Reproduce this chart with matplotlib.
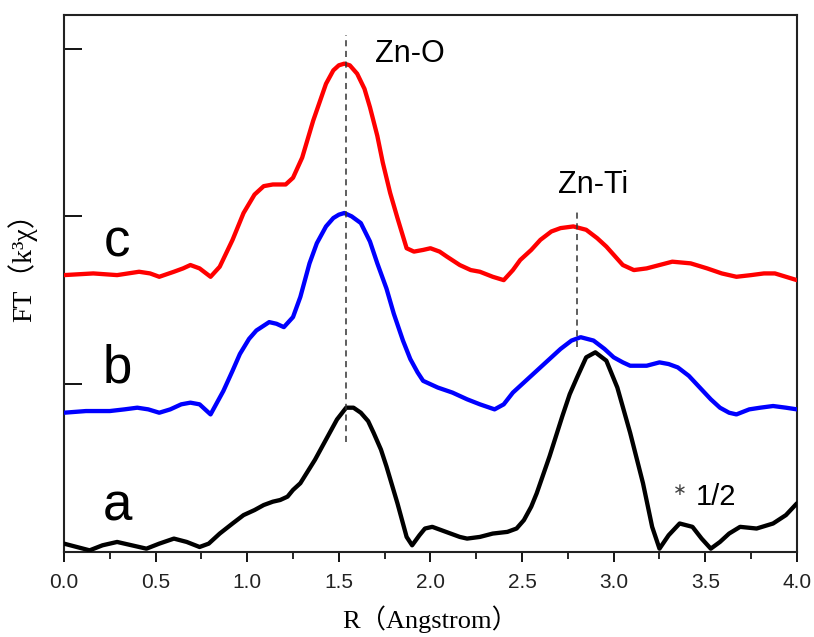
import matplotlib
matplotlib.use('Agg')
import matplotlib.pyplot as plt
from matplotlib.ticker import MultipleLocator

# curve a (black, shown *1/2)
r_a = [0.00, 0.07, 0.14, 0.21, 0.29, 0.37, 0.45, 0.52, 0.60, 0.67, 0.74, 0.79,
       0.85, 0.92, 0.98, 1.04, 1.09, 1.14, 1.18, 1.22, 1.25, 1.29, 1.33, 1.37,
       1.40, 1.45, 1.49, 1.54, 1.58, 1.62, 1.66, 1.69, 1.73, 1.76, 1.82, 1.87,
       1.90, 1.94, 1.97, 2.01, 2.06, 2.11, 2.16, 2.20, 2.27, 2.34, 2.42, 2.47,
       2.51, 2.55, 2.58, 2.65, 2.72, 2.76, 2.80, 2.85, 2.90, 2.96, 3.02, 3.09,
       3.16, 3.21, 3.25, 3.30, 3.36, 3.43, 3.48, 3.53, 3.58, 3.63, 3.69, 3.78,
       3.87, 3.94, 4.00]
ft_a = [0.05, 0.03, 0.01, 0.04, 0.06, 0.04, 0.02, 0.05, 0.08, 0.06, 0.03, 0.05,
        0.11, 0.17, 0.22, 0.25, 0.28, 0.30, 0.31, 0.33, 0.37, 0.41, 0.48, 0.55,
        0.61, 0.71, 0.79, 0.86, 0.86, 0.83, 0.78, 0.71, 0.61, 0.51, 0.29, 0.09,
        0.04, 0.10, 0.14, 0.15, 0.13, 0.11, 0.09, 0.08, 0.09, 0.11, 0.12, 0.14,
        0.19, 0.27, 0.35, 0.57, 0.81, 0.94, 1.04, 1.16, 1.19, 1.14, 0.98, 0.71,
        0.41, 0.15, 0.02, 0.10, 0.17, 0.15, 0.08, 0.02, 0.06, 0.11, 0.15, 0.14,
        0.17, 0.22, 0.29]

# curve b (blue)
r_b = [0.00, 0.12, 0.25, 0.33, 0.40, 0.46, 0.52, 0.58, 0.64, 0.69, 0.74, 0.80,
       0.87, 0.92, 0.96, 1.01, 1.05, 1.12, 1.16, 1.20, 1.25, 1.29, 1.34, 1.38,
       1.43, 1.47, 1.50, 1.53, 1.57, 1.62, 1.67, 1.71, 1.76, 1.80, 1.85, 1.89,
       1.93, 1.96, 2.04, 2.12, 2.20, 2.27, 2.35, 2.40, 2.45, 2.51, 2.58, 2.65,
       2.71, 2.77, 2.82, 2.89, 2.95, 3.00, 3.05, 3.09, 3.18, 3.25, 3.30, 3.35,
       3.41, 3.47, 3.53, 3.58, 3.63, 3.67, 3.74, 3.80, 3.87, 3.94, 4.00]
ft_b = [0.83, 0.84, 0.84, 0.85, 0.86, 0.85, 0.83, 0.85, 0.88, 0.89, 0.88, 0.82,
        0.96, 1.08, 1.18, 1.27, 1.32, 1.37, 1.36, 1.34, 1.40, 1.52, 1.72, 1.84,
        1.94, 1.99, 2.01, 2.02, 2.00, 1.96, 1.85, 1.72, 1.57, 1.42, 1.26, 1.15,
        1.07, 1.02, 0.98, 0.95, 0.91, 0.88, 0.85, 0.88, 0.95, 1.01, 1.08, 1.15,
        1.21, 1.26, 1.28, 1.26, 1.21, 1.16, 1.13, 1.11, 1.11, 1.13, 1.12, 1.10,
        1.05, 0.98, 0.91, 0.86, 0.83, 0.82, 0.85, 0.86, 0.87, 0.86, 0.85]

# curve c (red)
r_c = [0.00, 0.16, 0.29, 0.35, 0.41, 0.47, 0.52, 0.60, 0.65, 0.69, 0.74, 0.80,
       0.85, 0.92, 0.98, 1.04, 1.09, 1.14, 1.21, 1.25, 1.30, 1.36, 1.43, 1.47,
       1.50, 1.53, 1.56, 1.60, 1.64, 1.67, 1.71, 1.74, 1.78, 1.82, 1.87, 1.91,
       1.96, 2.00, 2.05, 2.09, 2.16, 2.22, 2.27, 2.34, 2.40, 2.45, 2.49, 2.55,
       2.60, 2.66, 2.71, 2.78, 2.85, 2.91, 2.96, 3.05, 3.11, 3.18, 3.25, 3.32,
       3.42, 3.51, 3.59, 3.67, 3.75, 3.82, 3.88, 3.94, 4.00]
ft_c = [1.65, 1.66, 1.65, 1.66, 1.67, 1.66, 1.64, 1.67, 1.69, 1.71, 1.69, 1.64,
        1.70, 1.86, 2.02, 2.13, 2.18, 2.19, 2.19, 2.23, 2.35, 2.57, 2.79, 2.87,
        2.90, 2.91, 2.90, 2.85, 2.76, 2.65, 2.48, 2.32, 2.14, 1.99, 1.81, 1.79,
        1.80, 1.81, 1.79, 1.76, 1.71, 1.68, 1.67, 1.64, 1.62, 1.68, 1.74, 1.80,
        1.86, 1.91, 1.93, 1.94, 1.92, 1.87, 1.82, 1.71, 1.68, 1.69, 1.71, 1.73,
        1.72, 1.69, 1.66, 1.64, 1.65, 1.66, 1.66, 1.64, 1.62]

# guide lines for the two shells
shell_names = ['Zn-O', 'Zn-Ti']
shell_r     = [1.54, 2.80]
shell_lo    = [0.655, 1.22]
shell_hi    = [3.08, 2.04]

fig = plt.figure(figsize=(8.14, 6.37), dpi=100)
ax = fig.add_axes([0.0786, 0.1334, 0.9004, 0.8431])

line_kw = dict(lw=3.1, solid_joinstyle='round', solid_capstyle='round', zorder=3)
ax.plot(r_a, ft_a, color='black', **line_kw)
ax.plot(r_b, ft_b, color='#0000ff', **line_kw)
ax.plot(r_c, ft_c, color='#ff0000', **line_kw)

ax.vlines(shell_r, shell_lo, shell_hi, colors='#333333', linestyles=(0, (4, 3)),
          lw=1.1, zorder=4)

sans = ['Liberation Sans', 'DejaVu Sans']
ax.text(1.70, 2.92, shell_names[0], fontsize=22, family=sans, va='baseline')
ax.text(2.89, 2.14, shell_names[1], fontsize=22, family=sans, va='baseline',
        ha='center')
for lab, yb in zip(['c', 'b', 'a'], [1.76, 1.01, 0.19]):
    ax.text(0.29, yb, lab, fontsize=38, family=sans, va='baseline', ha='center')
ax.text(3.36, 0.37, '∗', fontsize=12, family=['DejaVu Sans'], va='center',
        ha='center', color='#444444')
ax.text(3.45, 0.28, '1/2', fontsize=21, family=sans, va='baseline')

ax.set_xlim(0, 4.0)
ax.set_ylim(0, 3.2)
ax.xaxis.set_major_locator(MultipleLocator(0.5))
ax.xaxis.set_minor_locator(MultipleLocator(0.25))
ax.set_yticks([1, 2, 3])
ax.set_yticklabels([])
ax.tick_params(axis='x', which='major', direction='out', length=7, width=1.3,
               labelsize=15, pad=8, labelcolor='#222222')
ax.tick_params(axis='x', which='minor', direction='out', length=5, width=1.2)
ax.tick_params(axis='y', which='major', direction='in', length=13, width=1.3)
for lbl in ax.get_xticklabels():
    lbl.set_family(sans)
for sp in ax.spines.values():
    sp.set_linewidth(1.5)
    sp.set_color('#222222')

serif = ['Liberation Serif', 'Noto Sans CJK SC']
ax.set_xlabel('R（Angstrom）', fontsize=19, family=serif, labelpad=10)
ax.set_ylabel('FT（k³χ）', fontsize=20, family=serif)
ax.yaxis.set_label_coords(-0.037, 0.542)

plt.savefig('out.png', dpi=100)
